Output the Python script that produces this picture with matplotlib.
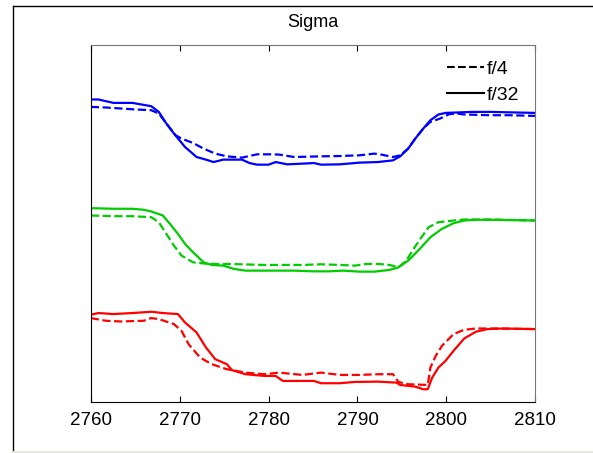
import numpy as np
import matplotlib
matplotlib.use("Agg")
import matplotlib.pyplot as plt
from matplotlib.lines import Line2D

plt.rcParams['font.family'] = ['Liberation Sans', 'DejaVu Sans']

# x positions (frame number) and sigma values (arbitrary units)
blue_solid_x = [2760, 2760.85, 2762.55, 2764.67, 2766.8, 2767.65, 2768.5, 2769.35, 2770.6, 2771.9,
                2772.96, 2773.8, 2774.9, 2777.0, 2777.85, 2778.7, 2780.0, 2780.8, 2782.1, 2783.8,
                2785.1, 2785.9, 2788.0, 2790.2, 2792.3, 2794.0, 2794.8, 2795.7, 2796.5, 2797.4,
                2798.2, 2799.1, 2799.9, 2802.9, 2805.0, 2810]
blue_solid_y = [301.7, 301.7, 298.3, 298.3, 295, 289.3, 277.7, 267.7, 254.3, 244.3,
                241.7, 239.3, 241.7, 241.7, 238.3, 236.7, 236.7, 239.3, 237, 237.7,
                238.3, 236.7, 237, 238.7, 239.3, 241, 245, 252.7, 262.7, 272.7,
                281, 286.7, 288.3, 289.3, 289.3, 288.3]

blue_dash_x = [2760, 2761.7, 2763.4, 2765.1, 2766.8, 2767.65, 2768.5, 2769.55, 2770.2, 2771.5,
               2772.7, 2774.0, 2775.3, 2777.0, 2778.7, 2780.4, 2781.2, 2782.9, 2785.9, 2788.0,
               2790.2, 2791.9, 2792.7, 2794.0, 2794.8, 2795.7, 2796.5, 2797.4, 2798.2, 2799.3,
               2800.3, 2801.2, 2802.0, 2805.0, 2807.1, 2810]
blue_dash_y = [294.3, 293.7, 292.7, 291.7, 291, 287.7, 277.7, 266, 262.7, 258.3,
               252.7, 247.7, 245, 243.7, 247, 247, 246.7, 244.3, 245, 245.3,
               246, 247.7, 246.7, 244.3, 246, 252.7, 262.7, 272.7, 279.3, 282.7,
               287, 287.7, 286.7, 286, 286, 285.3]

green_solid_x = [2760, 2762.55, 2764.67, 2765.95, 2766.8, 2768.1, 2768.9, 2769.8, 2770.6, 2771.5,
                 2772.7, 2773.6, 2774.9, 2776.1, 2777.4, 2779.5, 2782.9, 2785.0, 2786.7, 2788.4,
                 2790.2, 2791.9, 2793.6, 2794.6, 2795.7, 2797.0, 2798.2, 2799.5, 2800.8, 2802.0,
                 2803.3, 2805.0, 2810]
green_solid_y = [193.3, 192.7, 192.7, 191.7, 190, 186, 177.7, 167.7, 157.7, 149.3,
                 139.3, 136.7, 136, 132.7, 131, 131, 131, 130.3, 130.3, 131,
                 130, 130, 131.7, 134.3, 141, 152.7, 164.3, 172.7, 178.3, 181,
                 181.7, 181.7, 181]

green_dash_x = [2760, 2762.55, 2764.67, 2766.8, 2767.65, 2768.5, 2769.35, 2770.2, 2771.5, 2773.2,
                2775.3, 2779.5, 2783.8, 2785.9, 2788.0, 2789.7, 2791.0, 2792.3, 2793.6, 2794.6,
                2795.5, 2796.3, 2797.2, 2798.0, 2799.1, 2800.8, 2802.0, 2805.0, 2810]
green_dash_y = [186, 185.3, 185.3, 184.3, 179.3, 167.7, 156, 146, 139.3, 137.7,
                137.7, 136.7, 136.7, 137.3, 136.7, 136, 137.7, 137.7, 136.7, 134.3,
                141, 152.7, 164.3, 174.3, 179.3, 181, 182, 182, 181]

red_solid_x = [2760, 2760.85, 2762.55, 2764.67, 2766.8, 2768.1, 2769.8, 2770.6, 2771.9, 2772.96,
               2774.0, 2775.3, 2775.9, 2777.4, 2779.5, 2780.8, 2781.6, 2783.8, 2785.1, 2785.9,
               2788.0, 2789.7, 2792.3, 2794.4, 2794.8, 2796.5, 2797.4, 2797.9, 2798.4, 2799.1,
               2799.9, 2800.8, 2802.0, 2803.3, 2804.6, 2806.3, 2810]
red_solid_y = [87, 88.7, 87.7, 88.7, 90, 88.7, 87.7, 79.3, 69.3, 54.3,
               42.7, 37.7, 31.7, 27.7, 26, 26, 21, 21, 21, 18.7,
               18.7, 20, 20.3, 19.3, 17, 15.3, 12.7, 12.7, 24.3, 34.3,
               41, 51, 63.3, 70, 72.7, 73.3, 72.7]

red_dash_x = [2760, 2761.7, 2763.4, 2765.95, 2766.8, 2767.65, 2769.35, 2770.2, 2771.0, 2772.3,
              2773.6, 2775.3, 2777.4, 2779.5, 2781.2, 2783.8, 2785.9, 2788.0, 2790.2, 2792.3,
              2794.0, 2794.6, 2795.7, 2797.9, 2798.2, 2798.8, 2799.5, 2800.8, 2802.0, 2803.3,
              2805.0, 2810]
red_dash_y = [83.7, 81, 80.3, 81, 83.7, 82.7, 77.7, 71, 57.7, 44.3,
              37.7, 32.7, 29.3, 27.7, 29.3, 27, 29.3, 27, 27, 27.7,
              27.7, 20, 17.7, 17, 34.3, 46, 56, 67.7, 72, 73.3,
              73.3, 72.7]

xticks = [2760, 2770, 2780, 2790, 2800, 2810]

fig = plt.figure(figsize=(5.93, 4.53), dpi=100)
ax = fig.add_axes([0.1531, 0.1126, 0.7496, 0.788])

ax.plot(blue_dash_x, blue_dash_y, color="#0000ff", ls="--", lw=1.6)
ax.plot(blue_solid_x, blue_solid_y, color="#0000ff", ls="-", lw=1.6)
ax.plot(green_dash_x, green_dash_y, color="#00cc00", ls="--", lw=1.6)
ax.plot(green_solid_x, green_solid_y, color="#00cc00", ls="-", lw=1.6)
ax.plot(red_dash_x, red_dash_y, color="#ff0000", ls="--", lw=1.6)
ax.plot(red_solid_x, red_solid_y, color="#ff0000", ls="-", lw=1.6)

ax.set_xlim(2760, 2810)
ax.set_ylim(0, 356)
ax.set_xticks(xticks)
ax.set_yticks([])
ax.tick_params(axis="x", direction="in", top=True, length=4, labelsize=13.5, pad=7)
for s in ["top", "right"]:
    ax.spines[s].set_color("#777777")
ax.set_title("Sigma", fontsize=13, pad=13)

handles = [Line2D([], [], color="black", ls="--", lw=1.5),
           Line2D([], [], color="black", ls="-", lw=1.5)]
ax.legend(handles, ["f/4", "f/32"], loc="upper right", frameon=False, fontsize=14,
          handlelength=1.9, handletextpad=0.15, borderaxespad=0.4, labelspacing=0.4)

# window border
fig.add_artist(Line2D([12.5/593, 12.5/593], [0, 1 - 6/453], color="black", lw=1))
fig.add_artist(Line2D([12.5/593, 1], [1 - 6/453, 1 - 6/453], color="black", lw=1))
fig.add_artist(Line2D([12.5/593, 1], [1.5/453, 1.5/453], color="#e8e8e0", lw=2))

fig.savefig("out.png", dpi=100)
